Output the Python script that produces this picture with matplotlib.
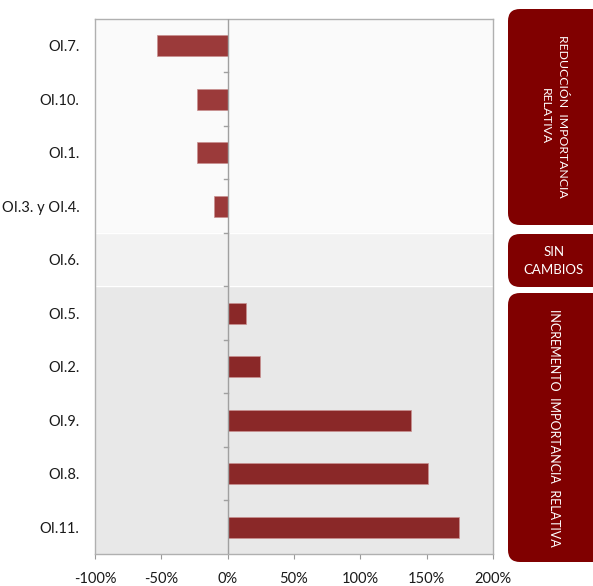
import matplotlib
matplotlib.use("Agg")
import matplotlib.pyplot as plt
from matplotlib.patches import FancyBboxPatch
from matplotlib.ticker import FuncFormatter, MultipleLocator
import numpy as np

plt.rcParams['font.family'] = ['Lato', 'DejaVu Sans']

categories = ["OI.7.", "OI.10.", "OI.1.", "OI.3. y OI.4.", "OI.6.",
              "OI.5.", "OI.2.", "OI.9.", "OI.8.", "OI.11."]
values = [-0.53, -0.23, -0.23, -0.10, 0.0, 0.14, 0.24, 1.38, 1.51, 1.74]
group_labels = ["REDUCCIÓN  IMPORTANCIA\nRELATIVA", "SIN\nCAMBIOS",
                "INCREMENTO  IMPORTANCIA  RELATIVA"]

fig = plt.figure(figsize=(5.93, 5.86), dpi=100)
ax = fig.add_axes([95/593, 1-554/586, 398/593, 535/586])

n = len(categories)
y = np.arange(n)
# background bands
ax.axhspan(-0.5, 3.5, color="#fafafa", zorder=0)
ax.axhspan(3.5, 4.5, color="#f2f2f2", zorder=0)
ax.axhspan(4.5, n-0.5, color="#e8e8e8", zorder=0)
ax.axhline(3.5, color="white", lw=1, zorder=0.5)
ax.axhline(4.5, color="white", lw=1, zorder=0.5)

colors = ["#9b3a3a" if v < 0 else "#8a2828" for v in values]
ax.barh(y, values, height=0.4, color=colors, edgecolor="#c89090", linewidth=0.5, zorder=2)

ax.set_xlim(-1.0, 2.0)
ax.set_ylim(n-0.5, -0.5)
ax.xaxis.set_major_locator(MultipleLocator(0.5))
ax.xaxis.set_major_formatter(FuncFormatter(lambda v, p: f"{v*100:.0f}%"))
ax.set_yticks(y)
ax.set_yticklabels(categories)
ax.tick_params(axis="y", length=0, pad=11, labelsize=10.5, colors="#1a1a1a")
ax.tick_params(axis="x", length=3.5, direction="out", color="#999999", labelsize=10.5, pad=9.5, colors="#1a1a1a")
for s in ax.spines.values():
    s.set_color("#b0b0b0")
    s.set_linewidth(1)
# zero axis line with ticks at category boundaries
ax.axvline(0, color="#a0a0a0", lw=1, zorder=3)
for b in np.arange(0.5, n-0.5, 1.0):
    ax.plot([-0.03, 0], [b, b], color="#a0a0a0", lw=1, zorder=3, clip_on=False)

# side boxes in pixel coordinates
ov = fig.add_axes([0, 0, 1, 1], facecolor="none")
ov.set_xlim(0, 593)
ov.set_ylim(586, 0)
ov.axis("off")
boxes = [(9, 225), (234, 287), (293, 562)]
for (top, bot) in boxes:
    p = FancyBboxPatch((508, top), 110, bot-top,
                       boxstyle="round,pad=0,rounding_size=12",
                       facecolor="#800000", edgecolor="none")
    ov.add_patch(p)
ov.text(554, 116, group_labels[0], rotation=-90, color="white", fontsize=8.8,
        ha="center", va="center", multialignment="center", linespacing=1.6)
ov.text(554, 261, group_labels[1], color="white", fontsize=9.5,
        ha="center", va="center", multialignment="center", linespacing=1.5)
ov.text(554, 428, group_labels[2], rotation=-90, color="white", fontsize=9,
        ha="center", va="center")

fig.savefig("out.png", dpi=100)
